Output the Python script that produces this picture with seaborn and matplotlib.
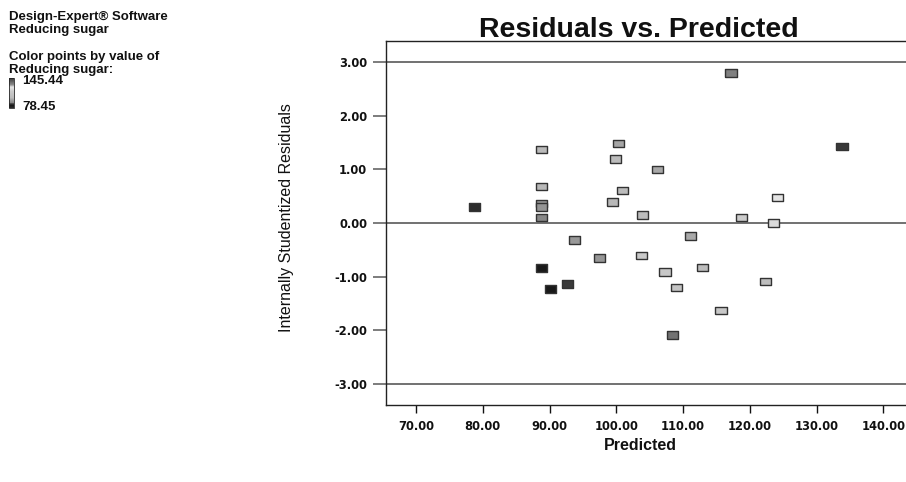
import numpy as np
import pandas as pd
import matplotlib
matplotlib.use("Agg")
import matplotlib.pyplot as plt
from matplotlib.colors import LinearSegmentedColormap, Normalize
from matplotlib.cm import ScalarMappable
import seaborn as sns

# Predicted values, internally studentized residuals and observed reducing sugar
predicted = [78.8, 88.8, 88.8, 88.8, 88.8, 88.8, 100.3, 99.9, 100.9, 99.4,
             103.9, 117.2, 106.2, 133.8, 124.1, 118.8, 123.6, 93.7, 97.5, 88.8,
             90.1, 92.7, 103.8, 111.1, 107.3, 112.9, 109.0, 122.4, 115.7, 108.4]
residuals = [0.30, 1.37, 0.68, 0.36, 0.30, 0.10, 1.48, 1.19, 0.61, 0.39,
             0.15, 2.79, 1.00, 1.43, 0.47, 0.10, 0.00, -0.32, -0.65, -0.84,
             -1.23, -1.14, -0.61, -0.24, -0.91, -0.83, -1.20, -1.09, -1.63, -2.09]
sugar = [78.45, 101.5, 101.0, 94.0, 93.5, 90.5, 97.5, 101.8, 102.5, 101.0,
         102.3, 132.5, 97.8, 145.44, 125.5, 116.0, 121.0, 94.3, 93.8, 84.0,
         83.5, 87.8, 114.0, 98.0, 112.0, 103.0, 110.0, 104.0, 113.0, 89.8]

sugar_min, sugar_max = 78.45, 145.44
x_ticks = [70, 80, 90, 100, 110, 120, 130, 140]
y_ticks = [-3, -2, -1, 0, 1, 2, 3]

df = pd.DataFrame({"Predicted": predicted, "Residual": residuals, "Sugar": sugar})

# grey ramp: dark at both ends, light in the middle
cmap = LinearSegmentedColormap.from_list("sugar_grey", [
    (0.00, "#2c2c2c"), (0.08, "#181818"), (0.14, "#3c3c3c"), (0.18, "#888888"),
    (0.25, "#9c9c9c"), (0.35, "#bcbcbc"), (0.55, "#cacaca"), (0.70, "#e6e6e6"),
    (0.78, "#8a8a8a"), (1.00, "#383838")])
norm = Normalize(sugar_min, sugar_max)

sns.set_style("white")
plt.rcParams["font.family"] = ["Liberation Sans", "DejaVu Sans"]

fig = plt.figure(figsize=(9.06, 4.82), dpi=100)
ax = fig.add_axes([386 / 906, 1 - 405 / 482, 1 - 386 / 906, (405 - 41) / 482])

rect = [(-1, -0.66), (1, -0.66), (1, 0.66), (-1, 0.66), (-1, -0.66)]
sns.scatterplot(data=df, x="Predicted", y="Residual", hue="Sugar",
                palette=cmap, hue_norm=norm, marker=rect, s=66,
                edgecolor="#333333", linewidth=1.0, legend=False, ax=ax, zorder=3)

for yv in (-3, 0, 3):
    ax.axhline(yv, color="#666666", lw=1.3, zorder=1)

ax.set_xlim(65.5, 143.4)
ax.set_ylim(-3.39, 3.39)
ax.set_xticks(x_ticks)
ax.set_xticklabels([f"{v:.2f}" for v in x_ticks])
ax.set_yticks(y_ticks)
ax.set_yticklabels([f"{v:.2f}" for v in y_ticks])
ax.set_xlabel("")
ax.set_ylabel("")

for side in ("top", "left", "bottom"):
    ax.spines[side].set_visible(True)
    ax.spines[side].set_color("#222222")
    ax.spines[side].set_linewidth(1.0)
ax.spines["right"].set_visible(False)

ax.tick_params(axis="y", direction="out", length=9.5, width=1.2, color="#666666",
               pad=4, left=True)
ax.tick_params(axis="x", direction="out", length=6, width=1.0, color="#111111",
               pad=5, bottom=True)
for lab in ax.get_xticklabels() + ax.get_yticklabels():
    lab.set_fontfamily("DejaVu Sans")
    lab.set_fontweight("bold")
    lab.set_fontsize(8.3)
    lab.set_color("#111111")

fig.text(639 / 906, 1 - 30 / 482, "Residuals vs. Predicted", ha="center", va="center",
         fontsize=20.5, fontweight="bold", color="#111111")
fig.text(287 / 906, 1 - 218 / 482, "Internally Studentized Residuals", ha="center",
         va="center", rotation=90, fontsize=11.5, color="#111111")
fig.text(640 / 906, 1 - 446 / 482, "Predicted", ha="center", va="center",
         fontsize=11.5, fontweight="bold", color="#111111")

# side notes and colour key
notes = [("Design-Expert\u00ae Software", 17), ("Reducing sugar", 30),
         ("Color points by value of", 57), ("Reducing sugar:", 70)]
for txt, yp in notes:
    fig.text(9 / 906, 1 - yp / 482, txt, ha="left", va="center",
             fontsize=9.5, fontweight="bold", color="#111111")

cax = fig.add_axes([9 / 906, 1 - 108 / 482, 5 / 906, 30 / 482])
cb = fig.colorbar(ScalarMappable(norm=norm, cmap=cmap), cax=cax)
cb.set_ticks([])
cb.outline.set_linewidth(0.6)
fig.text(22 / 906, 1 - 81 / 482, f"{sugar_max:.2f}", ha="left", va="center",
         fontsize=9.5, fontweight="bold", color="#111111")
fig.text(22 / 906, 1 - 106.5 / 482, f"{sugar_min:.2f}", ha="left", va="center",
         fontsize=9.5, fontweight="bold", color="#111111")

fig.savefig("out.png", dpi=100)
